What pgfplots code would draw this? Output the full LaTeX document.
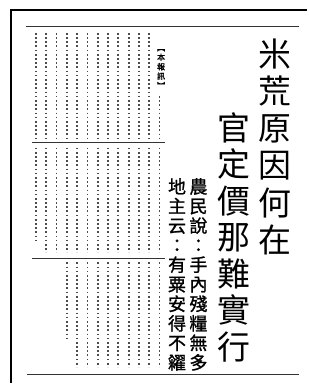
\documentclass[border=0pt]{standalone}
\usepackage{pgfplots}
\pgfplotsset{compat=1.18}
\usepackage{fontspec}
\newfontfamily\cjk{Noto Sans CJK TC}
\newfontfamily\cjkb{Noto Sans CJK TC}[FakeBold=1.2]
\begin{document}
\begin{tikzpicture}
\begin{axis}[scale only axis, width=308pt, height=384pt,
  xmin=0, xmax=308, ymin=0, ymax=384, y dir=reverse,
  hide axis, clip=false]
\addplot[draw=none] coordinates {(0,0) (308,384)};
% frame
\addplot[line width=2pt, black] coordinates {(308,10.5) (10.8,10.5) (10.8,384)};
% rules
\addplot[line width=1.3pt, black!80] coordinates {(26,26.5) (300,26.5)};
\addplot[line width=1.3pt, black!80] coordinates {(27,375.5) (300,375.5)};
\addplot[line width=1.3pt, black!80] coordinates {(32,142.7) (165,142.7)};
\addplot[line width=1.3pt, black!80] coordinates {(32,259) (165,259)};
\pgfplotsset{dotcol/.style={line width=1.8pt, black!70, dash pattern=on 1.7pt off 2.5pt}}
% block 1
\addplot[dotcol] coordinates {(36,33) (36,139)};
\addplot[dotcol] coordinates {(46.3,33) (46.3,139)};
\addplot[dotcol] coordinates {(56.7,33) (56.7,139)};
\addplot[dotcol] coordinates {(67,33) (67,139)};
\addplot[dotcol] coordinates {(77.3,33) (77.3,139)};
\addplot[dotcol] coordinates {(87.7,33) (87.7,139)};
\addplot[dotcol] coordinates {(98,33) (98,139)};
\addplot[dotcol] coordinates {(108.3,33) (108.3,139)};
\addplot[dotcol] coordinates {(118.7,33) (118.7,139)};
\addplot[dotcol] coordinates {(129,33) (129,139)};
\addplot[dotcol] coordinates {(139.3,33) (139.3,139)};
\addplot[dotcol] coordinates {(149.7,33) (149.7,139)};
\addplot[dotcol] coordinates {(160,96.2) (160,139)};
% block 2
\addplot[dotcol] coordinates {(36,148) (36,241)};
\addplot[dotcol] coordinates {(46.3,148) (46.3,253)};
\addplot[dotcol] coordinates {(56.7,148) (56.7,253)};
\addplot[dotcol] coordinates {(67,148) (67,253)};
\addplot[dotcol] coordinates {(77.3,148) (77.3,253)};
\addplot[dotcol] coordinates {(87.7,148) (87.7,253)};
\addplot[dotcol] coordinates {(98,148) (98,253)};
\addplot[dotcol] coordinates {(108.3,148) (108.3,253)};
\addplot[dotcol] coordinates {(118.7,148) (118.7,253)};
\addplot[dotcol] coordinates {(129,148) (129,253)};
\addplot[dotcol] coordinates {(139.3,148) (139.3,253)};
\addplot[dotcol] coordinates {(149.7,148) (149.7,253)};
\addplot[dotcol] coordinates {(160,148) (160,253)};
% block 3
\addplot[dotcol] coordinates {(67,263) (67,341)};
\addplot[dotcol] coordinates {(77.3,263) (77.3,368)};
\addplot[dotcol] coordinates {(87.7,263) (87.7,368)};
\addplot[dotcol] coordinates {(98,263) (98,368)};
\addplot[dotcol] coordinates {(108.3,263) (108.3,368)};
\addplot[dotcol] coordinates {(118.7,263) (118.7,368)};
\addplot[dotcol] coordinates {(129,263) (129,368)};
\addplot[dotcol] coordinates {(139.3,263) (139.3,368)};
\addplot[dotcol] coordinates {(149.7,263) (149.7,368)};
\addplot[dotcol] coordinates {(160,263) (160,368)};
% headlines
\node[anchor=north, align=center, inner sep=0pt, font={\cjk\fontsize{33}{37.3}\selectfont}]
  at (axis cs:276,38.5) {米\\荒\\原\\因\\何\\在};
\node[anchor=north, align=center, inner sep=0pt, font={\cjk\fontsize{33}{36.6}\selectfont}]
  at (axis cs:235,112.5) {官\\定\\價\\那\\難\\實\\行};
\node[anchor=north, align=center, inner sep=0pt, font={\cjkb\fontsize{18}{19.6}\selectfont}]
  at (axis cs:199,178.5) {農\\民\\說\\：\\手\\內\\殘\\糧\\無\\多};
\node[anchor=north, align=center, inner sep=0pt, font={\cjkb\fontsize{18}{19.6}\selectfont}]
  at (axis cs:177.5,178.5) {地\\主\\云\\：\\有\\粟\\安\\得\\不\\糴};
\node[anchor=north, align=center, inner sep=0pt, font={\cjkb\fontsize{8}{9.5}\selectfont}]
  at (axis cs:161.5,49) {︻\\本\\報\\訊\\︼};
\end{axis}
\end{tikzpicture}
\end{document}
